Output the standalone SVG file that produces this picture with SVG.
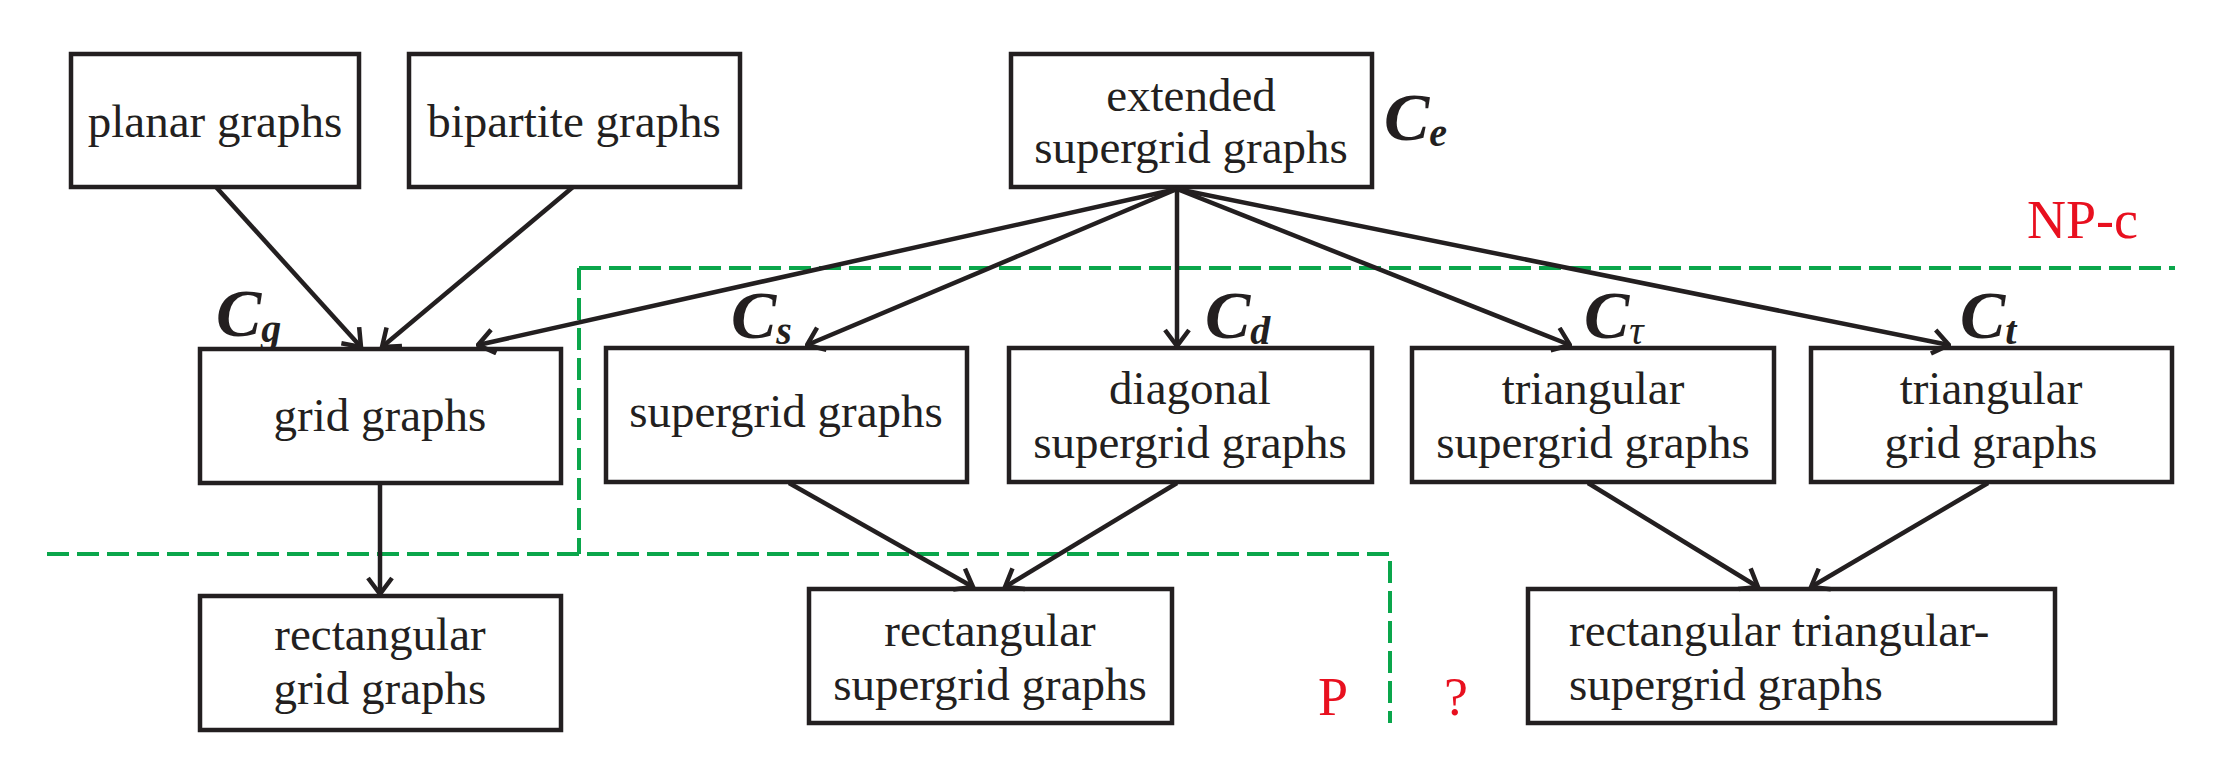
<svg xmlns="http://www.w3.org/2000/svg" width="2219" height="765" viewBox="0 0 2219 765">
<style>
.b{fill:#fff;stroke:#231f20;stroke-width:4.5}
.t{font-family:"Liberation Serif",serif;font-size:47px;fill:#231f20;text-anchor:middle}
.c{font-family:"Liberation Serif",serif;font-size:68px;font-style:italic;font-weight:bold;fill:#231f20}
.c tspan{font-size:40px}
.r{font-family:"Liberation Serif",serif;font-size:54px;fill:#e8101f}
.g{stroke:#0aa64b;stroke-width:4;fill:none;stroke-dasharray:22 8}
</style>
<defs>
<marker id="m" markerWidth="28" markerHeight="28" refX="26" refY="14" orient="auto" markerUnits="userSpaceOnUse"><path d="M10,2 L26,14 L10,26" fill="none" stroke="#231f20" stroke-width="4.5"/></marker></defs>
<g id="dividers">
<path class="g" d="M579,268 H2175 M579,268 V554"/>
<path class="g" d="M47,554 H1390 V723"/>
</g>
<g id="n1"><rect class="b" x="71" y="54" width="288" height="133"/><text class="t" x="215" y="137">planar graphs</text></g>
<g id="n2"><rect class="b" x="409" y="54" width="331" height="133"/><text class="t" x="574" y="137">bipartite graphs</text></g>
<g id="n3"><rect class="b" x="1011" y="54" width="361" height="133"/><text class="t" x="1191" y="111">extended</text><text class="t" x="1191" y="163">supergrid graphs</text></g>
<g id="n4"><rect class="b" x="200" y="349" width="361" height="134"/><text class="t" x="380" y="431">grid graphs</text></g>
<g id="n5"><rect class="b" x="606" y="348" width="361" height="134"/><text class="t" x="786" y="427">supergrid graphs</text></g>
<g id="n6"><rect class="b" x="1009" y="348" width="363" height="134"/><text class="t" x="1190" y="404">diagonal</text><text class="t" x="1190" y="458">supergrid graphs</text></g>
<g id="n7"><rect class="b" x="1412" y="348" width="362" height="134"/><text class="t" x="1593" y="404">triangular</text><text class="t" x="1593" y="458">supergrid graphs</text></g>
<g id="n8"><rect class="b" x="1811" y="348" width="361" height="134"/><text class="t" x="1991" y="404">triangular</text><text class="t" x="1991" y="458">grid graphs</text></g>
<g id="n9"><rect class="b" x="200" y="596" width="361" height="134"/><text class="t" x="380" y="650">rectangular</text><text class="t" x="380" y="704">grid graphs</text></g>
<g id="n10"><rect class="b" x="809" y="589" width="363" height="134"/><text class="t" x="990" y="646">rectangular</text><text class="t" x="990" y="700">supergrid graphs</text></g>
<g id="n11"><rect class="b" x="1528" y="589" width="527" height="134"/><text class="t" x="1569" y="646" style="text-anchor:start">rectangular triangular-</text><text class="t" x="1569" y="700" style="text-anchor:start">supergrid graphs</text></g>
<g id="labels">
<text class="c" x="1384" y="140">C<tspan dy="6">e</tspan></text>
<text class="c" x="216" y="336">C<tspan dy="6">g</tspan></text>
<text class="c" x="731" y="338">C<tspan dy="6">s</tspan></text>
<text class="c" x="1205" y="338">C<tspan dy="6">d</tspan></text>
<text class="c" x="1584" y="338">C<tspan dy="6" style="font-weight:normal">τ</tspan></text>
<text class="c" x="1960" y="338">C<tspan dy="6">t</tspan></text>
<text class="r" x="2027" y="238">NP-c</text>
<text class="r" x="1318" y="715">P</text>
<text class="r" x="1444" y="715">?</text>
</g>
<g id="connectors" stroke="#231f20" stroke-width="4.5" fill="none">
<line x1="216" y1="187" x2="361" y2="347" marker-end="url(#m)"/>
<line x1="573" y1="187" x2="382" y2="347" marker-end="url(#m)"/>
<line x1="1177" y1="189" x2="478" y2="345" marker-end="url(#m)"/>
<line x1="1177" y1="189" x2="807" y2="345" marker-end="url(#m)"/>
<line x1="1177" y1="189" x2="1177" y2="346" marker-end="url(#m)"/>
<line x1="1177" y1="189" x2="1570" y2="345" marker-end="url(#m)"/>
<line x1="1177" y1="189" x2="1949" y2="345" marker-end="url(#m)"/>
<line x1="380" y1="483" x2="380" y2="594" marker-end="url(#m)"/>
<line x1="789" y1="483" x2="973" y2="587" marker-end="url(#m)"/>
<line x1="1177" y1="483" x2="1005" y2="587" marker-end="url(#m)"/>
<line x1="1588" y1="483" x2="1758" y2="587" marker-end="url(#m)"/>
<line x1="1988" y1="483" x2="1811" y2="587" marker-end="url(#m)"/>
</g>
</svg>
